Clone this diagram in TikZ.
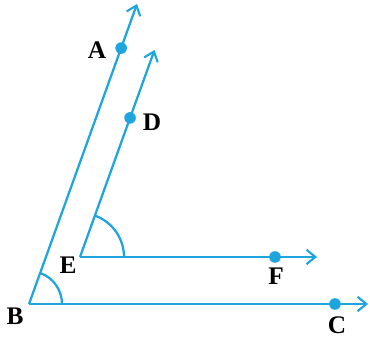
\documentclass[tikz,border=0pt]{standalone}
\usepackage{fontspec}
\setmainfont{Liberation Serif}
\usepackage{tikz}
\usetikzlibrary{positioning,arrows.meta,calc}
\definecolor{rayblue}{RGB}{30,165,222}

\begin{document}
\begin{tikzpicture}[
  x=0.025cm,y=-0.025cm,
  font=\fontsize{18}{21}\selectfont\bfseries,
  ray/.style={draw=rayblue,line width=1.6pt,-{Straight Barb[length=2.2mm,width=3.6mm,line width=1.5pt]}},
  dot/.style={circle,fill=rayblue,inner sep=0pt,minimum size=2.9mm},
  arcline/.style={draw=rayblue,line width=1.6pt},
  lbl/.style={inner sep=1pt,text=black}
]
\useasboundingbox (0,0) rectangle (370,339);

% vertices and ray ends
\coordinate (B) at (29,304);
\coordinate (E) at (80,257);
\coordinate (Ctip) at (368,304);
\coordinate (Ftip) at (317,257);
\coordinate (Atip) at (137,4);
\coordinate (Dtip) at (154.5,50);

% rays
\draw[ray] (B) -- (Atip);
\draw[ray] (B) -- (Ctip);
\draw[ray] (E) -- (Dtip);
\draw[ray] (E) -- (Ftip);

% angle marks
\draw[arcline] ([shift={(0:33)}]B) arc[start angle=0,end angle=-70,radius=33];
\draw[arcline] ([shift={(0:44)}]E) arc[start angle=0,end angle=-70,radius=44];

% points on the rays
\node[dot] (A) at ($(B)!0.853!(Atip)$) {};
\node[dot] (D) at ($(E)!0.672!(Dtip)$) {};
\node[dot] (F) at (275,257) {};
\node[dot] (C) at (335,304) {};

% labels
\node[lbl] (lA) at (97,50) {A};
\node[lbl] (lD) at (152,122) {D};
\node[lbl] (lE) at (68,265) {E};
\node[lbl] (lB) at (15,316) {B};
\node[lbl] (lF) at (276,276) {F};
\node[lbl] (lC) at (337,325) {C};
\end{tikzpicture}
\end{document}
